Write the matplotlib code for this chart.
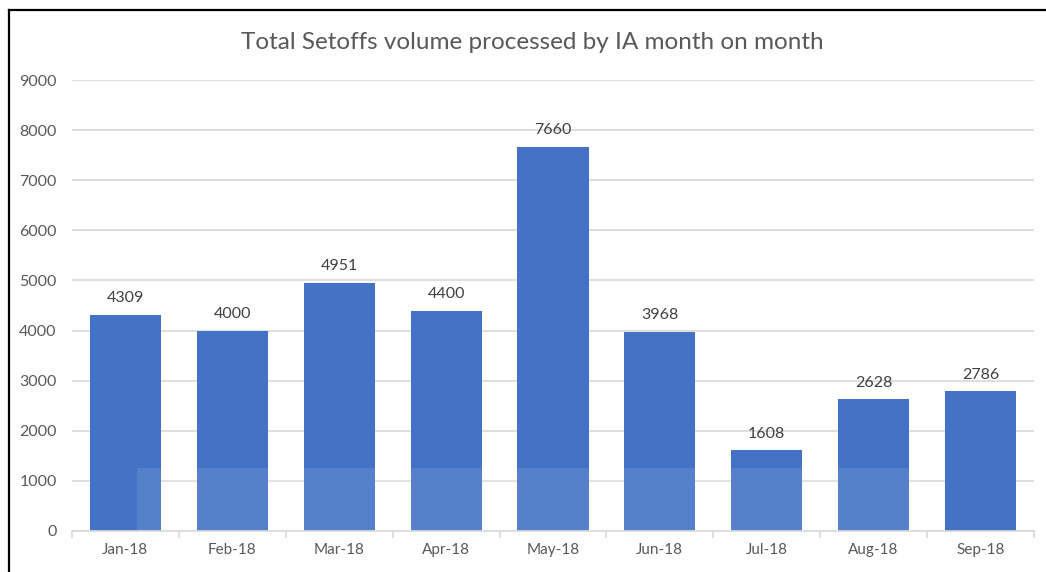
import matplotlib
matplotlib.use("Agg")
import matplotlib.pyplot as plt
from matplotlib.lines import Line2D
from matplotlib.patches import Rectangle
import numpy as np

months = ["Jan-18", "Feb-18", "Mar-18", "Apr-18", "May-18", "Jun-18", "Jul-18", "Aug-18", "Sep-18"]
volumes = [4309, 4000, 4951, 4400, 7660, 3968, 1608, 2628, 2786]
y_ticks = [0, 1000, 2000, 3000, 4000, 5000, 6000, 7000, 8000, 9000]

plt.rcParams['font.family'] = ['Lato', 'DejaVu Sans']

fig = plt.figure(figsize=(10.46, 5.72), dpi=100)
ax = fig.add_axes([0.0688, 0.0717, 0.9197, 0.7884])

x = np.arange(len(months))
bar_color = "#4472C4"
ax.bar(x, volumes, width=0.665, color=bar_color, zorder=2)

for xi, v in zip(x, volumes):
    ax.annotate(str(v), (xi, v), xytext=(0, 7), textcoords="offset points",
                ha="center", va="bottom", fontsize=11.5, color="#404040", zorder=4)

# translucent light band across the lower part of the bars
ax.add_patch(Rectangle((0.108, 0), 7.3, 1257, facecolor="white", alpha=0.1,
                       edgecolor="none", zorder=3))

ax.set_xlim(-0.5, len(months) - 0.5)
ax.set_ylim(0, 9000)
ax.set_yticks(y_ticks)
ax.set_yticklabels([str(t) for t in y_ticks])
ax.set_xticks(x)
ax.set_xticklabels(months)
ax.set_xticks(np.arange(-0.5, len(months)), minor=True)

ax.grid(axis="y", color="#D9D9D9", linewidth=1.2, zorder=0)
ax.set_axisbelow(True)
for s in ["top", "right", "left"]:
    ax.spines[s].set_visible(False)
ax.spines["bottom"].set_color("#D9D9D9")
ax.spines["bottom"].set_linewidth(1.2)

ax.tick_params(axis="y", length=0, pad=11, labelsize=11.5, labelcolor="#595959")
ax.tick_params(axis="x", which="major", length=0, pad=9, labelsize=11, labelcolor="#595959")
ax.tick_params(axis="x", which="minor", length=5, color="#D9D9D9", width=1.2)

fig.text(0.509, 0.925, "Total Setoffs volume processed by IA month on month",
         ha="center", va="center", fontsize=17.5, color="#595959")

# outer frame edges
fig.add_artist(Line2D([9 / 1046, 9 / 1046], [0, 1 - 10 / 572], color="black", linewidth=1.6))
fig.add_artist(Line2D([9 / 1046, 1], [1 - 10 / 572, 1 - 10 / 572], color="black", linewidth=1.6))

fig.savefig("out.png", dpi=100)
